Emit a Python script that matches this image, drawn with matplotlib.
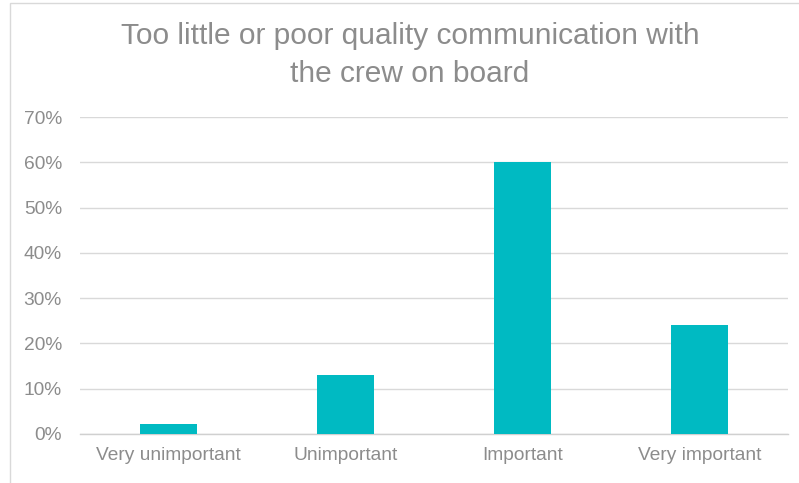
import matplotlib
matplotlib.use("Agg")
import matplotlib.pyplot as plt
from matplotlib.patches import Rectangle
from matplotlib.ticker import PercentFormatter

# ── Data ─────────────────────────────────────────────────────────────────────
categories = ["Very unimportant", "Unimportant", "Important", "Very important"]
values = [2.2, 13.0, 60.0, 24.0]   # percent
yticks = [0, 10, 20, 30, 40, 50, 60, 70]

BAR_COLOR = "#00BAC2"
TEXT_COLOR = "#8C8C8C"
GRID_COLOR = "#D9D9D9"
FONT = ["Liberation Sans", "DejaVu Sans"]

W, H = 799, 483
fig = plt.figure(figsize=(W / 100, H / 100), dpi=100)
fig.patch.set_facecolor("white")

# chart frame (light border, left and top visible)
fig.add_artist(Rectangle((10 / W, -0.05), 1.2, 1 - 3 / H + 0.05,
                         transform=fig.transFigure, fill=False,
                         edgecolor="#D9D9D9", linewidth=1.0))

ax = fig.add_axes([80 / W, 1 - 434 / H, 708 / W, (434 - 117) / H])

x = range(len(categories))
ax.bar(x, values, width=0.32, color=BAR_COLOR, zorder=3)

ax.set_xlim(-0.5, len(categories) - 0.5)
ax.set_ylim(0, 70)
ax.set_yticks(yticks)
ax.yaxis.set_major_formatter(PercentFormatter(decimals=0))
ax.set_xticks(list(x))
ax.set_xticklabels(categories)

ax.grid(axis="y", color=GRID_COLOR, linewidth=1.0, zorder=0)
for side in ["top", "right", "left"]:
    ax.spines[side].set_visible(False)
ax.spines["bottom"].set_color("#D0D0D0")
ax.spines["bottom"].set_linewidth(1.0)
ax.tick_params(length=0, colors=TEXT_COLOR, labelsize=13.8)
ax.tick_params(axis="y", pad=13)
ax.tick_params(axis="x", pad=9)
for lab in ax.get_xticklabels() + ax.get_yticklabels():
    lab.set_family(FONT)

fig.text(410 / W, 1 - 55 / H,
         "Too little or poor quality communication with\nthe crew on board",
         ha="center", va="center", fontsize=21.5, color=TEXT_COLOR,
         family=FONT, linespacing=1.42)

fig.savefig("out.png", dpi=100, facecolor="white")
